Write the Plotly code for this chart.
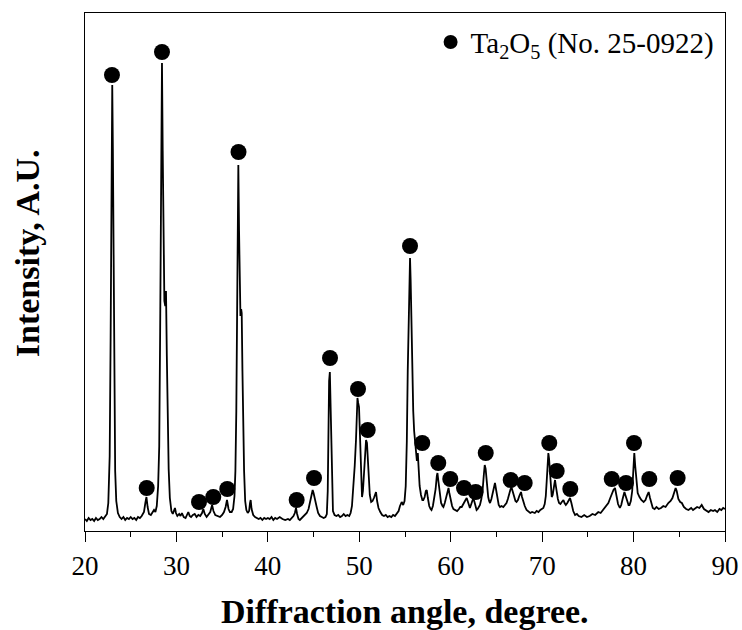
import plotly.graph_objects as go

# ---- XRD profile (2-theta in degrees, intensity in a.u.) ----
two_theta = [
    20.0, 20.2, 20.4, 20.6, 20.8, 21.0, 21.2, 21.4, 21.6, 21.8, 22.0, 22.2, 22.4,
    22.55, 22.7, 22.8, 22.9, 22.98, 23.05, 23.12, 23.2, 23.3, 23.42, 23.6, 23.8,
    24.0, 24.2, 24.4, 24.6, 24.8, 25.0, 25.2, 25.4, 25.6, 25.8, 26.0, 26.2,
    26.45, 26.6, 26.72, 26.85, 27.0, 27.2, 27.4, 27.55, 27.7, 27.85,
    28.0, 28.12, 28.22, 28.32, 28.42, 28.5, 28.58, 28.68, 28.78, 28.86, 28.95, 29.05, 29.15, 29.28, 29.45, 29.6,
    29.75, 29.84, 29.95, 30.1, 30.3, 30.45, 30.6, 30.8, 31.0, 31.15, 31.3, 31.45, 31.6, 31.8, 32.0, 32.2, 32.4, 32.6, 32.8,
    32.94, 33.1, 33.3, 33.5, 33.7, 33.9, 34.05, 34.25, 34.5, 34.77, 35.0, 35.2, 35.38, 35.53, 35.7, 35.85, 36.04,
    36.2, 36.35, 36.45, 36.55, 36.63, 36.7, 36.77, 36.85, 36.93, 37.0, 37.08, 37.14, 37.22, 37.3, 37.4, 37.52, 37.65, 37.8,
    37.95, 38.05, 38.12, 38.22, 38.4, 38.6, 38.8, 39.0, 39.2, 39.4, 39.6, 39.8, 40.0, 40.2, 40.4, 40.6, 40.8, 41.0, 41.3, 41.6, 41.9, 42.2, 42.4, 42.6, 42.8,
    42.95, 43.08, 43.2, 43.35, 43.5, 43.7, 43.9, 44.1, 44.25, 44.45, 44.65, 44.8, 44.9, 45.0, 45.12, 45.25, 45.34, 45.5, 45.7, 45.9, 46.1, 46.3,
    46.45, 46.55, 46.62, 46.7, 46.78, 46.86, 46.94, 47.02, 47.12, 47.3, 47.5, 47.7, 47.9, 48.1, 48.3, 48.5, 48.7, 48.9, 49.05,
    49.2, 49.35, 49.5, 49.64, 49.72, 49.8, 49.88, 49.97, 50.06, 50.15, 50.24, 50.3, 50.4, 50.52, 50.64, 50.74, 50.84, 50.95, 51.05, 51.15, 51.3, 51.45, 51.6, 51.75, 51.83, 51.95, 52.1, 52.3,
    52.5, 52.7, 52.9, 53.1, 53.3, 53.5, 53.7, 53.9, 54.1, 54.3, 54.45, 54.64, 54.8, 54.95,
    55.08, 55.2, 55.3, 55.4, 55.48, 55.55, 55.62, 55.7, 55.8, 55.9, 56.0, 56.1, 56.2, 56.3, 56.4, 56.48, 56.6, 56.75, 56.9, 57.0,
    57.15, 57.28, 57.38, 57.5, 57.65, 57.8, 57.9, 58.05, 58.2, 58.35, 58.48, 58.55, 58.65, 58.8, 58.95, 59.1, 59.2, 59.35, 59.5, 59.65, 59.76, 59.85, 60.0, 60.15, 60.3, 60.5, 60.7, 60.9,
    61.05, 61.2, 61.35, 61.5, 61.62, 61.75, 61.9, 62.0, 62.1, 62.25, 62.38, 62.47, 62.6, 62.72, 62.83, 62.95, 63.1, 63.2,
    63.35, 63.5, 63.62, 63.72, 63.82, 63.95, 64.1, 64.2, 64.3, 64.45, 64.6, 64.75, 64.84, 64.95, 65.1, 65.25, 65.39, 65.55, 65.75, 65.94,
    66.1, 66.25, 66.4, 66.55, 66.67, 66.8, 66.95, 67.08, 67.2, 67.35, 67.5, 67.62, 67.69, 67.8, 67.95, 68.1, 68.3, 68.5, 68.7, 68.9, 69.2, 69.4, 69.6, 69.8, 70.0,
    70.13, 70.28, 70.4, 70.5, 70.6, 70.68, 70.76, 70.86, 70.96, 71.05, 71.15, 71.25, 71.34, 71.41, 71.5, 71.6, 71.72, 71.85, 72.0, 72.15, 72.33, 72.45, 72.59, 72.75, 72.9, 73.05, 73.2,
    73.4, 73.6, 73.8, 74.0, 74.3, 74.6, 74.9, 75.2, 75.5, 75.8, 76.14, 76.4, 76.7, 76.95, 77.24,
    77.45, 77.65, 77.8, 77.97, 78.1, 78.3, 78.5, 78.65, 78.8, 78.92, 79.0, 79.1, 79.3, 79.45, 79.55, 79.7, 79.85,
    79.98, 80.08, 80.18, 80.3, 80.45, 80.65, 80.85, 81.1, 81.3, 81.5, 81.65, 81.8, 81.95, 82.1, 82.3,
    82.5, 82.75, 83.0, 83.25, 83.5, 83.8, 84.05, 84.25, 84.45, 84.6, 84.72, 84.9, 85.1, 85.28, 85.5,
    85.75, 86.0, 86.3, 86.5, 86.7, 86.95, 87.2, 87.45, 87.7, 87.95, 88.2, 88.45, 88.7, 88.9, 89.15, 89.4, 89.6, 89.8, 90.0,
]
intensity = [
    12, 10, 13, 11, 12, 10, 13, 11, 12, 14, 12, 15, 17,
    28, 75, 190, 360, 446, 380, 250, 130, 60, 30, 18, 14,
    12, 14, 11, 13, 12, 14, 12, 13, 11, 14, 13, 15,
    19, 28, 34, 24, 17, 16, 19, 21, 19, 25,
    45, 85, 200, 360, 468, 380, 268, 230, 225, 240, 175, 110, 62, 33, 20, 17,
    21, 23, 18, 15, 17, 15, 18, 14, 13, 16, 19, 15, 14, 16, 17, 14, 16, 15, 18,
    22, 17, 14, 16, 19, 26, 20, 16, 15, 14, 16, 19, 24, 31, 22, 19, 19,
    22, 35, 60, 120, 211, 310, 366, 300, 240, 215, 222, 218, 160, 105, 60, 30, 21, 18,
    20, 28, 31, 22, 16, 14, 13, 12, 13, 11, 13, 12, 13, 12, 14, 11, 13, 12, 14, 12, 11, 12, 11, 13, 15,
    18, 23, 17, 12, 11, 13, 14, 16, 18, 22, 30, 37, 41, 38, 32, 26, 24, 18, 15, 14, 13, 14,
    17, 40, 105, 150, 159, 125, 80, 38, 20, 16, 15, 16, 14, 15, 17, 15, 16, 15, 18,
    25, 41, 65, 91, 118, 133, 128, 124, 100, 64, 42, 34, 40, 58, 80, 91, 88, 70, 48, 36, 29, 30, 33, 37, 39, 30, 23, 19,
    16, 15, 16, 14, 15, 14, 16, 15, 17, 20, 25, 29, 26, 30,
    45, 90, 160, 225, 262, 273, 250, 200, 150, 120, 100, 88, 74, 70, 78, 56, 45, 36, 31, 31,
    34, 40, 41, 33, 25, 22, 21, 25, 32, 42, 55, 58, 50, 36, 28, 25, 24, 28, 33, 40, 43, 38, 30, 25, 22, 21, 20, 22,
    24, 24, 27, 30, 31, 33, 28, 25, 23, 27, 31, 33, 29, 25, 21, 22, 24, 26,
    32, 42, 56, 66, 62, 45, 34, 30, 28, 32, 38, 45, 48, 42, 32, 26, 24, 25, 24, 26,
    28, 32, 37, 42, 43, 38, 33, 30, 29, 31, 35, 38, 39, 34, 28, 25, 21, 19, 18, 19, 18, 20, 19, 21, 22,
    23, 27, 35, 50, 68, 78, 72, 55, 40, 34, 36, 42, 49, 51, 45, 38, 32, 28, 27, 29, 31, 28, 26, 28, 31, 33, 28,
    20, 16, 17, 15, 14, 16, 14, 15, 17, 16, 19, 18, 22, 25, 28,
    33, 38, 41, 43, 36, 27, 23, 26, 32, 37, 39, 36, 29, 26, 26, 30, 40,
    60, 78, 65, 48, 38, 34, 31, 29, 31, 36, 39, 33, 27, 23, 22,
    24, 22, 23, 25, 24, 28, 30, 33, 38, 43, 40, 32, 29, 28, 24,
    22, 21, 23, 21, 22, 24, 23, 26, 22, 20, 19, 21, 20, 21, 19, 22, 21, 23, 22,
]
assert len(two_theta) == len(intensity)

# ---- Ta2O5 reflection markers (position, marker height) ----
peak_pos = [22.95, 26.75, 28.42, 32.47, 34.03, 35.56, 36.79, 43.15, 45.05, 46.8,
            49.86, 50.92, 55.55, 56.89, 58.64, 59.95, 61.45, 62.73, 63.83, 66.56,
            68.09, 70.78, 71.59, 73.08, 77.61, 79.17, 80.05, 81.72, 84.82]
peak_mark = [456, 43, 479, 29, 34, 42, 379, 31, 53, 173,
             142, 101, 285, 88, 68, 52, 43, 39, 78, 51,
             48, 88, 60, 42, 52, 48, 88, 52, 53]

x_ticks = [20, 30, 40, 50, 60, 70, 80, 90]
x_tick_labels = ["20", "30", "40", "50", "60", "70", "80", "90"]

legend_label = "Ta<sub>2</sub>O<sub>5</sub> (No. 25-0922)"
x_title = "Diffraction angle, degree."
y_title = "Intensity, A.U."

SERIF = "Liberation Serif, Times New Roman, serif"

fig = go.Figure()
fig.add_trace(go.Scatter(
    x=two_theta, y=intensity, mode="lines",
    line=dict(color="black", width=1.8),
    showlegend=False, hoverinfo="skip",
))
fig.add_trace(go.Scatter(
    x=peak_pos, y=peak_mark, mode="markers",
    marker=dict(symbol="circle", size=16, color="black"),
    showlegend=False,
))
fig.add_trace(go.Scatter(
    x=[None], y=[None], mode="markers",
    marker=dict(symbol="circle", size=14, color="black"),
    name=legend_label, showlegend=True,
))

fig.update_layout(
    width=742, height=630,
    margin=dict(l=85, r=17, t=13, b=99, autoexpand=False),
    paper_bgcolor="white", plot_bgcolor="white",
    font=dict(family=SERIF, color="black"),
    legend=dict(
        x=0.99, xanchor="right", y=0.993, yanchor="top",
        font=dict(family=SERIF, size=29, color="black"),
        bgcolor="rgba(0,0,0,0)", borderwidth=0,
    ),
    annotations=[
        dict(text=f"<b>{x_title}</b>", xref="paper", yref="paper",
             x=0.5, y=-0.155, xanchor="center", yanchor="middle",
             showarrow=False, font=dict(family=SERIF, size=34, color="black")),
        dict(text=f"<b>{y_title}</b>", xref="paper", yref="paper",
             x=-0.09, y=0.537, xanchor="center", yanchor="middle", textangle=-90,
             showarrow=False, font=dict(family=SERIF, size=34, color="black")),
    ],
)
fig.update_xaxes(
    range=[20, 90], tickmode="array", tickvals=x_ticks, ticktext=x_tick_labels,
    ticks="outside", ticklen=10, tickwidth=1.3, tickcolor="black",
    minor=dict(dtick=5, ticks="outside", ticklen=5, tickwidth=1.3, tickcolor="black", showgrid=False),
    showline=True, linecolor="black", linewidth=1.3, mirror=True,
    showgrid=False, zeroline=False, automargin=False,
    tickfont=dict(family=SERIF, size=27, color="black"),
)
fig.update_yaxes(
    range=[0, 518], showticklabels=False, ticks="",
    showline=True, linecolor="black", linewidth=1.3, mirror=True,
    showgrid=False, zeroline=False, automargin=False,
)

fig.write_html("out.html", config={"displayModeBar": False},
               post_script="document.body.style.margin='0';")
